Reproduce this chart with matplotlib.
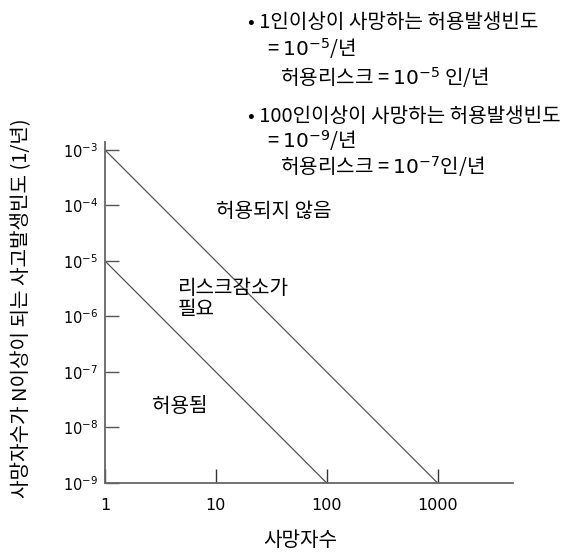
import matplotlib
matplotlib.use("Agg")
import matplotlib.pyplot as plt
from matplotlib.ticker import FixedLocator, FixedFormatter

plt.rcParams['font.family'] = ['Noto Sans CJK KR', 'DejaVu Sans']
plt.rcParams['mathtext.fontset'] = 'dejavusans'

# ---- data ----
x_ticks = [1, 10, 100, 1000]
x_tick_labels = ["1", "10", "100", "1000"]
y_exponents = [-3, -4, -5, -6, -7, -8, -9]
y_tick_labels = [r"$10^{%d}$" % e for e in y_exponents]

# limit lines (F-N criterion lines, slope -2)
upper_x = [1, 1000]
upper_y = [1e-3, 1e-9]
lower_x = [1, 100]
lower_y = [1e-5, 1e-9]

region_labels = ["허용되지 않음", "리스크감소가\n필요", "허용됨"]

notes = [
    "• 1인이상이 사망하는 허용발생빈도",
    "= $10^{-5}$/년",
    "허용리스크 = $10^{-5}$ 인/년",
    "• 100인이상이 사망하는 허용발생빈도",
    "= $10^{-9}$/년",
    "허용리스크 = $10^{-7}$인/년",
]

xlabel = "사망자수"
ylabel = "사망자수가 N이상이 되는 사고발생빈도 (1/년)"

# ---- figure ----
W, H = 574, 554
fig = plt.figure(figsize=(W / 100, H / 100), dpi=100)
ax = fig.add_axes([105 / W, 1 - 483 / H, (513 - 105) / W, (483 - 142) / H])

ax.set_xscale('log')
ax.set_yscale('log')
ax.set_xlim(1, 10 ** 3.68)
ax.set_ylim(1e-9, 10 ** -2.856)

line_color = '#555555'
ax.plot(upper_x, upper_y, color=line_color, lw=0.9)
ax.plot(lower_x, lower_y, color=line_color, lw=0.9)

for s in ['top', 'right']:
    ax.spines[s].set_visible(False)
for s in ['left', 'bottom']:
    ax.spines[s].set_color('#666666')
    ax.spines[s].set_linewidth(1.3)

ax.xaxis.set_major_locator(FixedLocator(x_ticks))
ax.xaxis.set_major_formatter(FixedFormatter(x_tick_labels))
ax.xaxis.set_minor_locator(FixedLocator([]))
ax.yaxis.set_major_locator(FixedLocator([10.0 ** e for e in y_exponents]))
ax.yaxis.set_major_formatter(FixedFormatter(y_tick_labels))
ax.yaxis.set_minor_locator(FixedLocator([]))

ax.tick_params(axis='x', direction='in', length=10, width=1.0, color='#333333',
               pad=11, labelsize=11.5)
ax.tick_params(axis='y', direction='in', length=10, width=1.0, color='#555555',
               pad=5, labelsize=10.5)
for lab in ax.get_xticklabels() + ax.get_yticklabels():
    lab.set_family('DejaVu Sans')

FS = 14.5
# region labels
ax.text(10 ** ((274 - 105) / 110.9), 10 ** (-3 - (212 - 150) / 55.5), region_labels[0],
        ha='center', va='center', fontsize=FS)
ax.text(10 ** ((178 - 105) / 110.9), 10 ** (-3 - (299 - 150) / 55.5), region_labels[1],
        ha='left', va='center', fontsize=FS, linespacing=1.0)
ax.text(10 ** ((152 - 105) / 110.9), 10 ** (-3 - (407 - 150) / 55.5), region_labels[2],
        ha='left', va='center', fontsize=FS)

# notes above
note_pos = [(248, 22), (267, 49), (280, 78), (248, 116), (267, 141), (280, 167)]
for txt, (px, py) in zip(notes, note_pos):
    fig.text(px / W, 1 - py / H, txt, ha='left', va='center', fontsize=FS,
             family='Noto Sans CJK KR')

fig.text(300 / W, 1 - 541 / H, xlabel, ha='center', va='center', fontsize=FS)
fig.text(22 / W, 1 - 308 / H, ylabel, ha='center', va='center', fontsize=FS,
         rotation=90)

fig.savefig('out.png', dpi=100, facecolor='white')
